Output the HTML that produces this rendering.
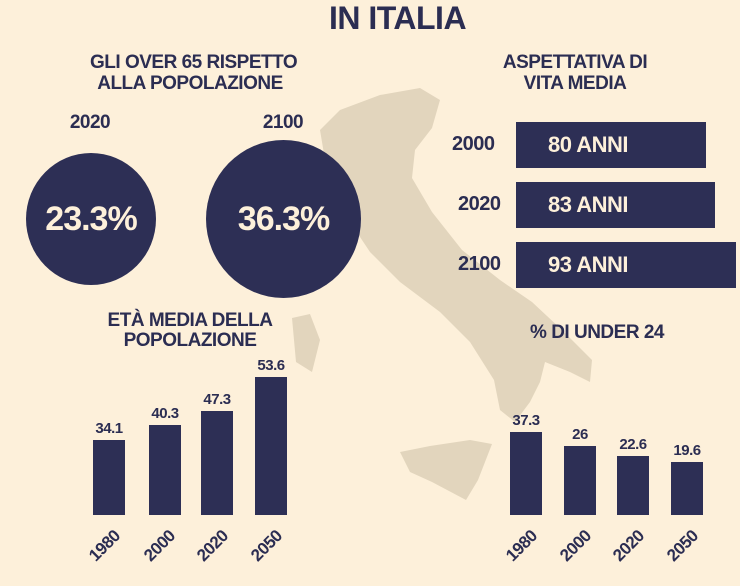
<!DOCTYPE html>
<html><head><meta charset="utf-8"><style>
body{margin:0;width:740px;height:586px;background:#fdf0da;overflow:hidden;position:relative;font-family:"Liberation Sans",sans-serif;font-weight:bold;color:#2b2d52}
.t{position:absolute;white-space:nowrap;text-align:center;letter-spacing:-0.5px}
.b{position:absolute;background:#2d2f55}
.c{position:absolute;border-radius:50%;background:#2d2f55;color:#fdf0da;display:flex;align-items:center;justify-content:center;font-size:34px;letter-spacing:-1px}
.lb{position:absolute;background:#2d2f55;color:#fdf0da;font-size:22px;line-height:46px;padding-left:32px;box-sizing:border-box;letter-spacing:-0.5px}
.yr{position:absolute;font-size:17px;transform:rotate(-45deg);transform-origin:center;white-space:nowrap;letter-spacing:-0.5px}
</style></head><body>
<svg width="740" height="586" style="position:absolute;left:0;top:0">
<g fill="#e2d5bd">
<polygon points="340,110 380,95 420,88 440,100 432,128 415,150 412,178 432,212 462,250 500,280 532,302 562,330 592,360 590,382 570,372 545,362 540,382 530,402 515,422 500,410 494,380 470,342 440,312 400,282 370,252 350,222 335,190 325,160 320,130"/>
<polygon points="400,452 430,446 470,440 492,444 478,480 466,500 432,482 410,472"/>
<polygon points="292,318 310,314 320,340 312,372 296,362"/>
</g></svg>
<div class="t" style="left:0;width:795px;top:0px;font-size:32px">IN ITALIA</div>
<div class="t" style="left:90px;width:200px;top:52px;font-size:19px;line-height:21px">GLI OVER 65 RISPETTO<br>ALLA POPOLAZIONE</div>
<div class="t" style="left:475px;width:200px;top:52px;font-size:19px;line-height:21px">ASPETTATIVA DI<br>VITA MEDIA</div>
<div class="t" style="left:50px;width:80px;top:112px;font-size:19px">2020</div>
<div class="t" style="left:243px;width:80px;top:112px;font-size:19px">2100</div>
<div class="c" style="left:26px;top:153px;width:130px;height:132px">23.3%</div>
<div class="c" style="left:206px;top:140px;width:155px;height:158px">36.3%</div>
<div class="t" style="left:452px;top:133px;font-size:20px">2000</div>
<div class="t" style="left:458px;top:193px;font-size:20px">2020</div>
<div class="t" style="left:458px;top:253px;font-size:20px">2100</div>
<div class="lb" style="left:516px;top:122px;width:190px;height:46px">80 ANNI</div>
<div class="lb" style="left:516px;top:182px;width:199px;height:46px">83 ANNI</div>
<div class="lb" style="left:516px;top:242px;width:220px;height:46px">93 ANNI</div>
<div class="t" style="left:90px;width:200px;top:311px;font-size:19px;line-height:20px">ETÀ MEDIA DELLA<br>POPOLAZIONE</div>
<div class="t" style="left:497px;width:200px;top:322px;font-size:19px">% DI UNDER 24</div>
<div class="b" style="left:93px;top:440px;width:32px;height:75px"></div>
<div class="b" style="left:149px;top:425px;width:32px;height:90px"></div>
<div class="b" style="left:201px;top:411px;width:32px;height:104px"></div>
<div class="b" style="left:255px;top:377px;width:32px;height:138px"></div>
<div class="t" style="left:84px;width:50px;top:420px;font-size:15px">34.1</div>
<div class="t" style="left:140px;width:50px;top:405px;font-size:15px">40.3</div>
<div class="t" style="left:192px;width:50px;top:391px;font-size:15px">47.3</div>
<div class="t" style="left:246px;width:50px;top:357px;font-size:15px">53.6</div>
<div class="b" style="left:510px;top:432px;width:32px;height:83px"></div>
<div class="b" style="left:564px;top:446px;width:32px;height:69px"></div>
<div class="b" style="left:617px;top:456px;width:32px;height:59px"></div>
<div class="b" style="left:671px;top:462px;width:32px;height:53px"></div>
<div class="t" style="left:501px;width:50px;top:412px;font-size:15px">37.3</div>
<div class="t" style="left:555px;width:50px;top:426px;font-size:15px">26</div>
<div class="t" style="left:608px;width:50px;top:436px;font-size:15px">22.6</div>
<div class="t" style="left:662px;width:50px;top:442px;font-size:15px">19.6</div>
<div class="yr" style="left:87px;top:536px">1980</div>
<div class="yr" style="left:142px;top:536px">2000</div>
<div class="yr" style="left:195px;top:536px">2020</div>
<div class="yr" style="left:249px;top:536px">2050</div>
<div class="yr" style="left:504px;top:536px">1980</div>
<div class="yr" style="left:558px;top:536px">2000</div>
<div class="yr" style="left:611px;top:536px">2020</div>
<div class="yr" style="left:665px;top:536px">2050</div>
</body></html>
